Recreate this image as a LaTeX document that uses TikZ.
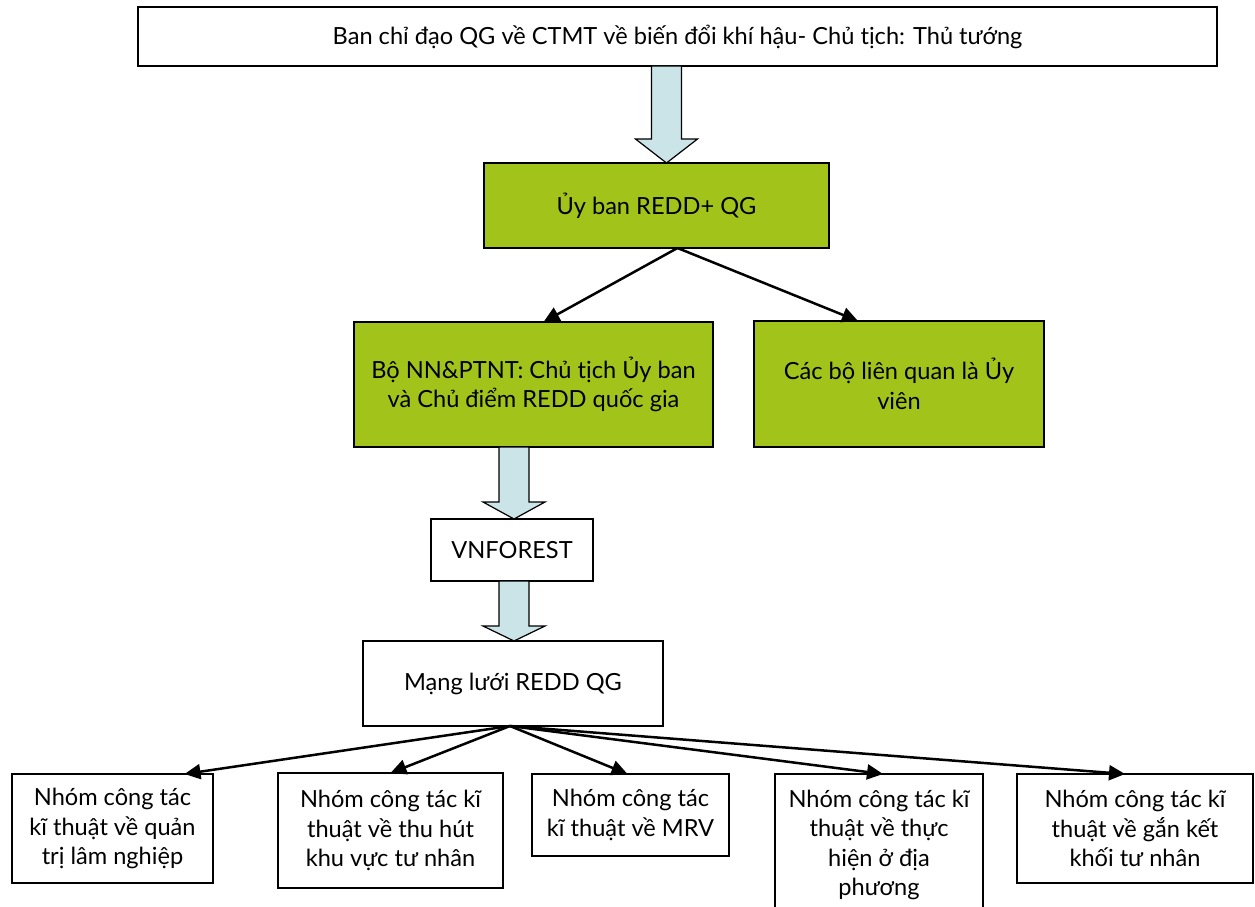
\documentclass[tikz,border=0pt]{standalone}
\usepackage{fontspec}
\setmainfont{Lato}
\usetikzlibrary{calc,arrows.meta}
\definecolor{leaf}{RGB}{162,196,26}
\definecolor{paleblue}{RGB}{203,228,232}
% hollow block arrow: start, tip, shaft half-width, head half-width, head length
\newcommand\fatarrow[5]{%
  \filldraw[fatarrow]
    ($(#1)+(-#3,0)$) -- ($(#2)+(-#3,-#5)$) -- ($(#2)+(-#4,-#5)$) -- (#2)
    -- ($(#2)+(#4,-#5)$) -- ($(#2)+(#3,-#5)$) -- ($(#1)+(#3,0)$) -- cycle;}
\begin{document}
\begin{tikzpicture}[x=1pt,y=-1pt,
  box/.style={draw=black, line width=2.2pt, fill=white, inner sep=0pt, outer sep=0pt,
    align=center, font=\fontsize{23.6}{29.5}\selectfont},
  greenbox/.style={box, fill=leaf},
  link/.style={line width=2.5pt, -{Triangle[length=16pt,width=15pt]}},
  fatarrow/.style={draw=black, line width=1.2pt, fill=paleblue, line join=miter}]
\useasboundingbox (0,0) rectangle (1255,907);
\clip (0,0) rectangle (1255,907);

% boxes
\node[box, minimum width=1079pt, minimum height=59pt] (top) at (677.5,36.5)
  {Ban chỉ đạo QG về CTMT về biến đổi khí hậu- Chủ tịch: Thủ tướng};
\node[greenbox, minimum width=345pt, minimum height=85pt] (g1) at (656.5,205.5)
  {Ủy ban REDD+ QG};
\node[greenbox, minimum width=359pt, minimum height=125pt] (bo) at (533.5,384.5)
  {Bộ NN\&PTNT: Chủ tịch Ủy ban\\và Chủ điểm REDD quốc gia};
\node[greenbox, minimum width=290pt, minimum height=126pt] (cac) at (899,384)
  {Các bộ liên quan là Ủy\\viên};
\node[box, minimum width=162pt, minimum height=62pt] (vn) at (512,550)
  {VNFOREST};
\node[box, minimum width=300pt, minimum height=85pt] (net) at (513,683.5)
  {Mạng lưới REDD QG};
\node[box, minimum width=201pt, minimum height=109pt] (w1) at (112.5,828.5)
  {Nhóm công tác\\kĩ thuật về quản\\trị lâm nghiệp};
\node[box, minimum width=225pt, minimum height=115pt] (w2) at (390.5,830.5)
  {Nhóm công tác kĩ\\thuật về thu hút\\khu vực tư nhân};
\node[box, minimum width=197pt, minimum height=82pt] (w3) at (630.5,815)
  {Nhóm công tác\\kĩ thuật về MRV};
\node[box, minimum width=208pt, minimum height=142pt] (w4) at (879,845)
  {Nhóm công tác kĩ\\thuật về thực\\hiện ở địa\\phương};
\node[box, minimum width=236pt, minimum height=109pt] (w5) at (1135,828.5)
  {Nhóm công tác kĩ\\thuật về gắn kết\\khối tư nhân};

% block arrows down the main chain
\coordinate (a1tip) at ($(g1.north)+(10,0)$);
\coordinate (a1s) at (a1tip |- top.south);
\fatarrow{a1s}{a1tip}{15}{31}{24}
\coordinate (a2tip) at ($(vn.north)+(2,0)$);
\coordinate (a2s) at (a2tip |- bo.south);
\fatarrow{a2s}{a2tip}{15}{31}{17}
\coordinate (a3tip) at ($(net.north)+(1,0)$);
\coordinate (a3s) at (a3tip |- vn.south);
\fatarrow{a3s}{a3tip}{15}{31}{15}

% committee links
\coordinate (g1out) at ($(g1.south)+(21,0)$);
\draw[link] (g1out) -- ($(bo.north)+(10,0)$);
\draw[link] (g1out) -- ($(cac.north)+(-41,0)$);

% network links to working groups
\coordinate (hub) at ($(net.south)+(-3,0)$);
\draw[link] (hub) -- ($(w1.north)+(72,0)$);
\draw[link] (hub) -- ($(w2.north)+(0,0)$);
\draw[link] (hub) -- ($(w3.north)+(-3,0)$);
\draw[link] (hub) -- ($(w4.north)+(4,0)$);
\draw[link] (hub) -- ($(w5.north)+(-10,0)$);
\end{tikzpicture}
\end{document}
